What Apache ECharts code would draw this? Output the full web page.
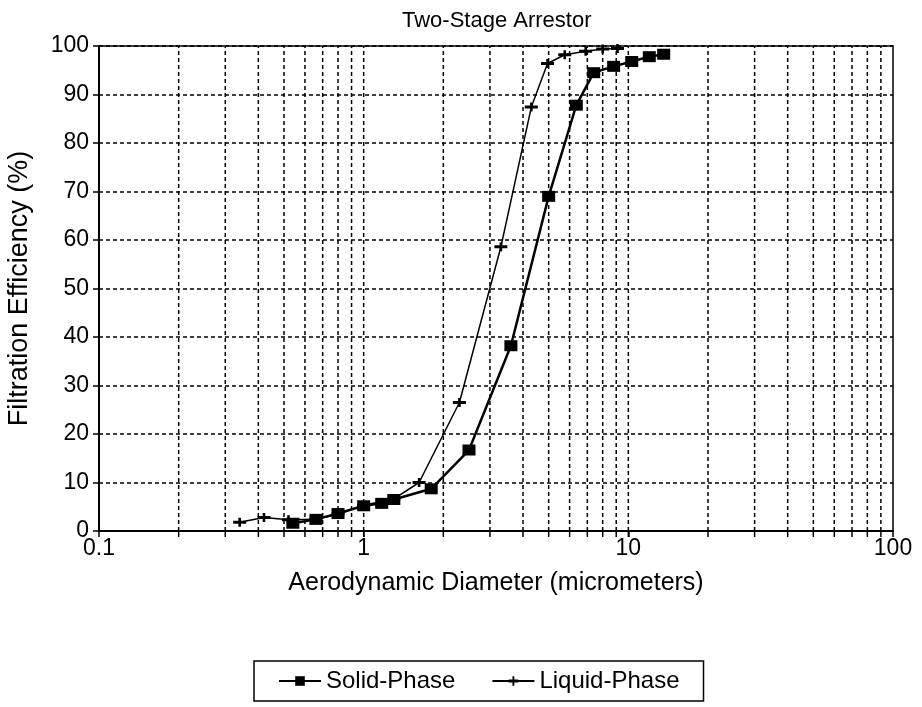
<!DOCTYPE html>
<html>
<head>
<meta charset="utf-8">
<script src="https://cdn.jsdelivr.net/npm/echarts@6/dist/echarts.min.js"></script>
<style>
  html, body { margin: 0; padding: 0; background: #fff; }
  #chart { width: 922px; height: 707px; }
</style>
</head>
<body>
<div id="chart"></div>
<script>
// 数据
var solidX = [0.54, 0.66, 0.80, 1.0, 1.17, 1.3, 1.8, 2.5, 3.6, 5.0, 6.36, 7.4, 8.8, 10.3, 12.0, 13.6];
var solidY = [1.6, 2.4, 3.6, 5.2, 5.7, 6.5, 8.7, 16.7, 38.2, 69, 87.8, 94.5, 95.8, 96.8, 97.8, 98.3];
var liquidX = [0.34, 0.42, 0.52, 0.66, 0.80, 1.0, 1.3, 1.62, 2.3, 3.3, 4.3, 4.95, 5.75, 6.9, 8.0, 9.1];
var liquidY = [1.8, 2.8, 2.3, 2.4, 3.5, 5.3, 6.6, 10.0, 26.5, 58.6, 87.4, 96.4, 98.2, 98.9, 99.4, 99.5];
var gridXs = [0.2, 0.3, 0.4, 0.5, 0.6, 0.7, 0.8, 0.9, 1,
              2, 3, 4, 5, 6, 7, 8, 9, 10,
              20, 30, 40, 50, 60, 70, 80, 90];

var font = 'Liberation Sans, Arial, sans-serif';

function pairs(xs, ys) {
  var out = [];
  for (var i = 0; i < xs.length; i++) out.push([xs[i], ys[i]]);
  return out;
}

var myChart = echarts.init(document.getElementById('chart'));

var option = {
  backgroundColor: '#fff',
  animation: false,
  title: {
    text: 'Two-Stage Arrestor',
    left: 397,
    top: 5,
    textStyle: { fontFamily: font, fontSize: 22, fontWeight: 'normal', color: '#000' }
  },
  legend: {
    top: 661,
    left: 254,
    padding: [8, 24],
    itemGap: 36,
    itemWidth: 42,
    itemHeight: 12,
    borderColor: '#000',
    borderWidth: 1.5,
    textStyle: { fontFamily: font, fontSize: 24, color: '#000' },
    data: ['Solid-Phase', 'Liquid-Phase']
  },
  grid: {
    left: 99, right: 29, top: 46, bottom: 176,
    outerBoundsMode: 'none',
    containLabel: false,
    show: true, borderColor: '#000', borderWidth: 1.5
  },
  xAxis: {
    type: 'log',
    logBase: 10,
    min: 0.1,
    max: 100,
    name: 'Aerodynamic Diameter (micrometers)',
    nameLocation: 'middle',
    nameGap: 40,
    nameTextStyle: { fontFamily: font, fontSize: 25, color: '#000' },
    axisLine: { lineStyle: { color: '#000', width: 2 } },
    axisTick: { show: true, length: 6, lineStyle: { color: '#000', width: 1.5 } },
    axisLabel: { fontFamily: font, fontSize: 23, color: '#000', margin: 6 },
    splitLine: { show: false }
  },
  yAxis: {
    type: 'value',
    min: 0,
    max: 100,
    interval: 10,
    name: 'Filtration Efficiency (%)',
    nameLocation: 'middle',
    nameGap: 66,
    nameTextStyle: { fontFamily: font, fontSize: 27, color: '#000' },
    axisLine: { lineStyle: { color: '#000', width: 2 } },
    axisTick: { show: true, length: 6, lineStyle: { color: '#000', width: 1.5 } },
    axisLabel: { fontFamily: font, fontSize: 23, color: '#000', margin: 10 },
    splitLine: { show: true, lineStyle: { color: '#000', width: 1.5, type: [4, 3] } }
  },
  series: [
    {
      // 竖向网格线 + 小刻度
      type: 'custom',
      silent: true,
      clip: false,
      z: 1,
      data: gridXs.map(function (v) { return [v]; }),
      renderItem: function (params, api) {
        var bot = api.coord([api.value(0), 0]);
        var top = api.coord([api.value(0), 100]);
        return {
          type: 'group',
          children: [
            { type: 'line', shape: { x1: bot[0], y1: bot[1], x2: top[0], y2: top[1] },
              style: { stroke: '#000', lineWidth: 1.5, lineDash: [4, 3] } },
            { type: 'line', shape: { x1: bot[0], y1: bot[1], x2: bot[0], y2: bot[1] + 6 },
              style: { stroke: '#000', lineWidth: 1.5 } }
          ]
        };
      }
    },
    {
      name: 'Solid-Phase',
      type: 'line',
      z: 3,
      data: pairs(solidX, solidY),
      symbol: 'rect',
      symbolSize: [13, 11],
      lineStyle: { color: '#000', width: 2.5 },
      itemStyle: { color: '#000', borderWidth: 0 }
    },
    {
      name: 'Liquid-Phase',
      type: 'line',
      z: 4,
      data: pairs(liquidX, liquidY),
      symbol: 'path://M0,3 L4,3 L4,0 L6,0 L6,3 L10,3 L10,6 L6,6 L6,9 L4,9 L4,6 L0,6 Z',
      symbolSize: [13, 9],
      lineStyle: { color: '#000', width: 1.5 },
      itemStyle: { color: '#000', borderWidth: 0 }
    }
  ]
};

myChart.setOption(option);
</script>
</body>
</html>
